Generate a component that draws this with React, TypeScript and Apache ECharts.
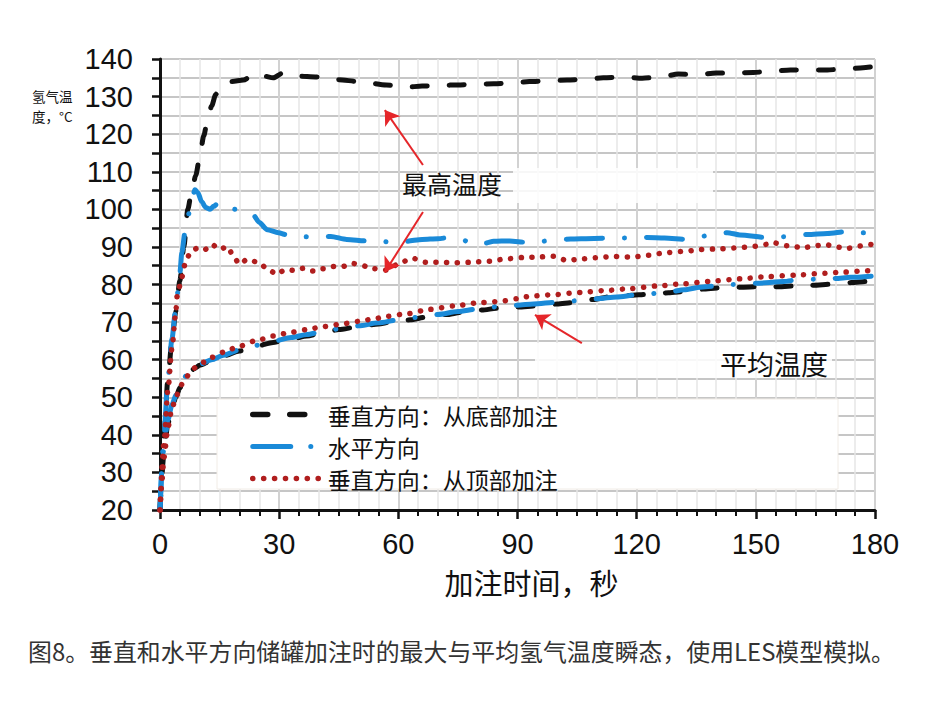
import React, { useEffect, useRef } from "react";
import * as echarts from "echarts";

// ---------- data ----------
const xTicks = [0, 30, 60, 90, 120, 150, 180];
const yTicks = [20, 30, 40, 50, 60, 70, 80, 90, 100, 110, 120, 130, 140];

const legendNames = ["垂直方向：从底部加注", "水平方向", "垂直方向：从顶部加注"];

// max temperature, vertical, bottom filling (black dashed)
const bottomMaxTime = [0, 0.5, 1, 2, 3, 4, 5, 6, 7, 8, 9, 10, 11, 12, 13, 14, 15, 16, 18, 21, 24, 26, 28.5, 31, 34, 40, 45, 50, 57, 62, 66, 71, 75, 80, 84, 90, 93, 98, 102.5, 107, 111.6, 117, 121.4, 126, 130.5, 135, 140, 145, 149.4, 154, 158.7, 163, 168, 173, 177, 180];
const bottomMaxTemp = [20, 30, 40, 55, 65, 73, 81, 90, 100, 105, 109, 114, 119.5, 124, 127.5, 130.5, 132.5, 133.5, 134, 134.4, 136.2, 135.5, 135, 136.3, 135.5, 135.2, 134.5, 134, 133.1, 132.5, 132.8, 133, 133.1, 133.3, 133.4, 133.8, 134, 134.2, 134.4, 134.6, 135, 135.2, 134.9, 135.2, 136, 135.8, 136.3, 136.3, 136.4, 136.8, 137.1, 137, 137.1, 137.4, 137.7, 138];

// max temperature, horizontal (blue dash-dot)
const horizMaxTime = [0, 1, 2, 3, 4, 5, 5.5, 6.3, 7, 8, 8.8, 9.5, 10.5, 11.5, 12.6, 13.5, 15, 16, 17, 19, 21, 23.4, 25, 27, 29.8, 32, 35, 39.4, 43, 47, 52, 55, 58.7, 62, 66, 70, 73, 76, 80, 82, 84, 88, 92.4, 96, 100.8, 106, 112.6, 117, 122.6, 127, 132.7, 138, 142.8, 146, 152.9, 157, 163, 168, 173, 176, 180];
const horizMaxTemp = [20, 40, 55, 65.5, 74, 83, 88.5, 94, 98, 102.5, 105.2, 104.5, 102, 100.5, 100, 100.8, 102, 101.5, 100.5, 100, 99.5, 98.6, 96.5, 94.6, 93.8, 93.2, 92.8, 92.5, 92.8, 92, 91.6, 91.5, 91.2, 91.5, 92, 92.2, 92.5, 91.8, 90.6, 91, 91.5, 91.6, 91.2, 91.5, 92, 92.2, 92.3, 92.4, 92.5, 92.4, 92, 93, 93.8, 93.2, 92.5, 92.7, 93.3, 93.6, 94.1, 93.8, 93.8];

// max temperature, vertical, top filling (red dotted)
const topMaxTime = [0, 1, 2, 3, 4, 4.3, 5.5, 6.3, 7.6, 9.6, 11.3, 13, 15, 17, 18.5, 20, 22, 25, 27, 29.5, 31.5, 34, 36, 38.5, 41, 43.6, 46, 48.6, 51, 53.7, 56.7, 58.5, 60.5, 63.5, 67, 70.5, 74, 78, 83, 87, 91.4, 95, 99, 102.5, 106, 110.8, 114, 119, 123, 127.6, 132, 136, 141, 146, 150, 152.9, 154.4, 158, 162, 165, 167.5, 170, 173, 176, 178, 180];
const topMaxTemp = [20, 38, 52, 63, 73, 76.8, 82, 85.4, 88.5, 89.8, 89.3, 90.7, 89.3, 90.1, 87.5, 85.4, 86.7, 85.8, 84.1, 82.7, 84, 83.7, 84.3, 83.6, 84.2, 84.8, 84.8, 85.6, 85, 84.2, 83.8, 84.8, 85.8, 87, 85.9, 85.9, 85.8, 85.9, 86.2, 86.8, 87.2, 87.3, 87.5, 86.4, 86.8, 87.2, 87.5, 87.3, 87.8, 88.5, 88.8, 89.3, 89.5, 89.8, 90.2, 90.7, 91.1, 90.3, 89.8, 90.3, 90.7, 90, 89.6, 90.2, 90.7, 90.5];

// average temperature, vertical, bottom filling
const bottomAvgTime = [0, 0.5, 1, 2, 3, 4, 5, 6, 7, 8.5, 10, 13, 16, 20, 24, 28.5, 33, 37, 41, 45, 50, 55, 58, 63, 67, 72, 76, 81, 85, 90, 95, 100, 104, 109, 113, 118, 123, 128, 132.7, 137, 142, 146, 151, 155, 159.5, 164, 169.5, 174, 178, 180];
const bottomAvgTemp = [20, 30, 36, 43, 47, 50, 52.5, 54.5, 56, 57.5, 58.5, 59.8, 61, 62.3, 63.5, 64.6, 65.5, 66.3, 67.2, 68, 68.8, 69.5, 70, 70.6, 71.3, 72, 72.6, 73.2, 73.7, 74, 74.3, 74.8, 75.2, 76, 76.7, 77.1, 77.4, 77.8, 78.2, 78.8, 79.2, 79.3, 79.4, 79.4, 79.6, 79.8, 80.1, 80.5, 80.8, 81];

// average temperature, horizontal
const horizAvgTime = [0, 0.5, 1, 2, 3, 4, 5, 6, 7, 8.5, 10, 13, 16, 20, 24, 28.5, 33, 37, 41, 45, 50, 55, 60, 65, 70, 75, 80, 85, 90, 94, 100, 106.6, 110, 115, 120, 127.6, 132, 136, 140, 144.3, 150, 157, 161, 165, 170, 173.8, 180];
const horizAvgTemp = [20, 31, 37, 44, 48, 50.5, 53, 55, 56.5, 57.8, 58.8, 60, 61.2, 62.6, 63.8, 64.9, 65.9, 66.7, 67.5, 68.2, 69, 69.8, 70.6, 71.3, 72, 72.8, 73.5, 74.1, 74.5, 74.8, 75.3, 75.8, 76.2, 76.7, 77.2, 77.9, 78.6, 79.3, 79.6, 80, 80.3, 80.8, 81.3, 81.4, 81.6, 81.9, 82.3];

// average temperature, vertical, top filling
const topAvgTime = [0, 0.5, 1, 2, 3, 4, 5, 6, 7.5, 9, 11, 13, 16, 20, 24, 28.5, 33, 37, 41, 45.3, 50, 53.7, 57, 62, 68, 74, 80.6, 85.6, 90, 93.2, 99, 105.8, 112, 118.4, 125, 132, 138, 146, 153, 160, 166, 172, 177, 180];
const topAvgTemp = [20, 28, 34, 42, 47, 50, 52.5, 54.5, 56.3, 58, 59.3, 60.6, 62, 63.6, 65, 66.3, 67.3, 68, 68.8, 69.4, 70.2, 70.8, 71.5, 72.2, 73.4, 74.3, 75.2, 75.5, 76.2, 76.9, 77.3, 77.9, 78.4, 78.9, 79.6, 80.2, 80.8, 81.5, 82.1, 82.5, 82.9, 83.3, 83.6, 83.8];

// annotation arrows [startTime, startTemp, endTime, endTemp]
const arrowMax1 = [66.2, 111.8, 56.6, 126.4];
const arrowMax2 = [66.2, 99.3, 56.6, 83.3];
const arrowAvg = [106.2, 64.4, 94.4, 71.9];

const annotMax = "最高温度";
const annotAvg = "平均温度";
const yNameLines = ["氢气温", "度，°C"];
const xName = "加注时间，秒";
const caption = "图8。垂直和水平方向储罐加注时的最大与平均氢气温度瞬态，使用LES模型模拟。";

const pairs = (ts: number[], vs: number[]) => ts.map((t, i) => [t, vs[i]]);

const CJK = "'Noto Sans CJK SC', 'Noto Sans', sans-serif";
const LAT = "'Liberation Sans', Arial, sans-serif";

const BLACK = "#111111";
const BLUE = "#1a8ad8";
const RED = "#b01e1e";
const ARROW = "#e5262a";

const blackLine = { color: BLACK, width: 5, type: [15, 22], cap: "round" };
const blueLine = { color: BLUE, width: 5, type: [36, 22, 0.1, 22], cap: "round" };
const redLine = { color: RED, width: 5.5, type: [0.1, 10.6], cap: "round" };

function arrowPair(a: number[]) {
  return [{ coord: [a[0], a[1]] }, { coord: [a[2], a[3]] }];
}

export default function App() {
  const ref = useRef<HTMLDivElement>(null);
  useEffect(() => {
    if (!ref.current) return;
    const chart = echarts.init(ref.current, null, { renderer: "svg" });
    const mk = (name: string, data: number[][], ls: any, z: number, extra: any = {}) => ({
      type: "line",
      name,
      data,
      showSymbol: false,
      symbol: "none",
      smooth: 0.25,
      smoothMonotone: "x",
      lineStyle: ls,
      itemStyle: { color: ls.color },
      z,
      silent: true,
      ...extra,
    });
    const hidden = { opacity: 0, color: "rgba(0,0,0,0)", borderWidth: 0 };
    const option: any = {
      animation: false,
      backgroundColor: "#ffffff",
      grid: { left: 160, right: 67, top: 59, bottom: 210, containLabel: false },
      xAxis: {
        type: "value",
        min: 0,
        max: 180,
        interval: 30,
        name: xName,
        nameLocation: "middle",
        nameGap: 57,
        nameTextStyle: { fontFamily: CJK, fontSize: 29, color: "#111", padding: [0, 0, 0, 28] },
        axisLine: { show: true, onZero: false, lineStyle: { color: "#111", width: 3 } },
        axisTick: { show: true, length: 9, lineStyle: { color: "#111", width: 2.5 } },
        minorTick: { show: true, splitNumber: 6, length: 6, lineStyle: { color: "#111", width: 2 } },
        axisLabel: { fontFamily: LAT, fontSize: 29, color: "#111", margin: 19 },
        splitLine: { show: true, lineStyle: { color: "#d2d2d2", width: 2 } },
        minorSplitLine: { show: true, lineStyle: { color: "#e6e6e6", width: 1.5 } },
      },
      yAxis: {
        type: "value",
        min: 20,
        max: 140,
        interval: 10,
        axisLine: { show: true, onZero: false, lineStyle: { color: "#111", width: 3 } },
        axisTick: { show: true, length: 8, lineStyle: { color: "#111", width: 2.5 } },
        minorTick: { show: true, splitNumber: 2, length: 8, lineStyle: { color: "#111", width: 2.5 } },
        axisLabel: { fontFamily: LAT, fontSize: 29, color: "#111", margin: 27 },
        splitLine: { show: true, lineStyle: { color: "#c6c6c6", width: 2 } },
        minorSplitLine: { show: true, lineStyle: { color: "#c6c6c6", width: 2 } },
      },
      legend: {
        show: true,
        orient: "vertical",
        left: 245,
        top: 398,
        itemWidth: 70,
        itemHeight: 14,
        itemGap: 9,
        selectedMode: false,
        itemStyle: hidden,
        textStyle: { fontFamily: CJK, fontSize: 23, color: "#111" },
        data: [
          { name: legendNames[0], itemStyle: hidden, lineStyle: { color: BLACK, width: 5.5, type: [15, 22], cap: "round" } },
          { name: legendNames[1], itemStyle: hidden, lineStyle: { color: BLUE, width: 5, type: [38, 20, 0.1, 40], cap: "round" } },
          { name: legendNames[2], itemStyle: hidden, lineStyle: { color: RED, width: 5.5, type: [0.1, 10.8], cap: "round" } },
        ],
      },
      graphic: [
        { type: "rect", z: 1, shape: { x: 217, y: 399, width: 621, height: 90 }, style: { fill: "#ffffff", stroke: "#f1ece6", lineWidth: 1 } },
        { type: "rect", z: 1, shape: { x: 513, y: 168, width: 200, height: 35 }, style: { fill: "#ffffff", opacity: 0.85 } },
        { type: "rect", z: 1, shape: { x: 535, y: 343, width: 297, height: 35 }, style: { fill: "#ffffff", opacity: 0.85 } },
        { type: "text", z: 10, x: 402, y: 183, style: { text: annotMax, font: `25px ${CJK}`, fill: "#111", verticalAlign: "middle" } },
        { type: "text", z: 10, x: 720, y: 363, style: { text: annotAvg, font: `27px ${CJK}`, fill: "#111", verticalAlign: "middle" } },
        { type: "text", z: 10, x: 32, y: 96, style: { text: yNameLines[0], font: `13.5px ${CJK}`, fill: "#111", verticalAlign: "middle" } },
        { type: "text", z: 10, x: 32, y: 116, style: { text: yNameLines[1], font: `13.5px ${CJK}`, fill: "#111", verticalAlign: "middle" } },
        { type: "text", z: 10, x: 28, y: 650, style: { text: caption, font: `23.9px ${CJK}`, fill: "#333", verticalAlign: "middle" } },
      ],
      series: [
        mk(legendNames[0], pairs(bottomMaxTime, bottomMaxTemp), blackLine, 2, {
          markLine: {
            silent: true,
            animation: false,
            symbol: ["none", "arrow"],
            symbolSize: 14,
            label: { show: false },
            lineStyle: { color: ARROW, width: 2, type: "solid" },
            itemStyle: { color: ARROW },
            data: [arrowPair(arrowMax1), arrowPair(arrowMax2), arrowPair(arrowAvg)],
          },
        }),
        mk(legendNames[0], pairs(bottomAvgTime, bottomAvgTemp), blackLine, 2),
        mk(legendNames[1], pairs(horizMaxTime, horizMaxTemp), blueLine, 3),
        mk(legendNames[1], pairs(horizAvgTime, horizAvgTemp), blueLine, 3),
        mk(legendNames[2], pairs(topMaxTime, topMaxTemp), redLine, 4),
        mk(legendNames[2], pairs(topAvgTime, topAvgTemp), redLine, 4),
      ],
    };
    chart.setOption(option);
    return () => chart.dispose();
  }, []);
  return (
    <div
      ref={ref}
      style={{ position: "fixed", left: 0, top: 0, width: 942, height: 720, background: "#fff" }}
    />
  );
}
